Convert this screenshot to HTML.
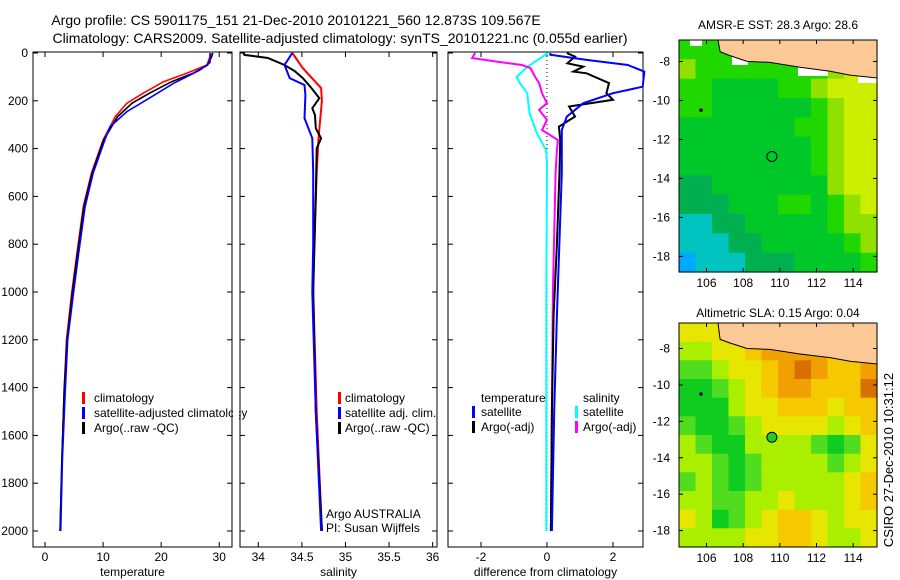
<!DOCTYPE html>
<html><head><meta charset="utf-8"><style>
body{margin:0;background:#fff;}
svg{display:block;font-family:"Liberation Sans",sans-serif;}
</style></head><body>
<svg id="fig" width="900" height="580" viewBox="0 0 900 580" xmlns="http://www.w3.org/2000/svg">
<text x="296" y="25" font-size="14" text-anchor="middle">Argo profile: CS 5901175_151 21-Dec-2010 20101221_560 12.873S 109.567E</text>
<text x="340" y="43" font-size="14" text-anchor="middle">Climatology: CARS2009. Satellite-adjusted climatology: synTS_20101221.nc (0.055d earlier)</text>
<g id="content"></g>
</svg>
<script>
// ---- temperature panel data ----
const tClimDepth=[0,15,50,85,120,168,210,266,364,502,643,837,1004,1200,1410,1700,2000];
const tClimVal=[28.4,28.4,27.9,24.4,20.4,16.9,14.1,12.1,10.0,8.0,6.6,5.5,4.6,3.7,3.3,2.9,2.6];
const tSatDepth=[0,40,71,127,196,245,308,364,502,643,837,1004,1200,1410,1700,2000];
const tSatVal=[28.5,28.4,26.7,22.1,17.5,14.1,11.2,10.3,8.3,6.9,5.8,4.9,3.9,3.5,3.0,2.7];
const tArgoDepth=[0,15,50,85,120,168,210,266,364,502,643,837,1004,1200,1410,1700,2000];
const tArgoVal=[28.9,28.7,28.0,25.5,21.8,18.0,15.0,12.5,10.1,8.1,6.7,5.6,4.7,3.8,3.3,2.9,2.6];
// ---- salinity panel data ----
const sClimDepth=[0,63,147,200,357,500,800,1000,1500,2000];
const sClimVal=[34.39,34.51,34.72,34.73,34.69,34.67,34.64,34.63,34.67,34.73];
const sSatDepth=[0,50,105,134,176,273,357,497,800,1000,1500,2000];
const sSatVal=[34.39,34.30,34.36,34.53,34.54,34.53,34.62,34.63,34.63,34.62,34.66,34.72];
const sArgoDepth=[0,8,21,50,76,105,147,189,231,260,315,357,399,600,1000,1500,2000];
const sArgoVal=[33.83,33.84,34.11,34.30,34.42,34.51,34.61,34.70,34.62,34.65,34.66,34.72,34.67,34.66,34.63,34.66,34.73];
// ---- difference panel data ----
const dTSatDepth=[0,7,29,50,78,141,168,210,266,322,502,782,1100,1500,2000];
const dTSatVal=[0.1,0.1,1.2,2.45,2.95,2.9,2.0,1.1,0.6,0.45,0.45,0.38,0.3,0.22,0.15];
const dTArgoDepth=[0,15,43,57,78,85,126,168,196,224,266,308,364,500,800,1100,1500,2000];
const dTArgoVal=[0.6,0.85,0.62,1.1,0.8,1.2,1.88,1.8,2.0,0.67,0.85,0.36,0.4,0.38,0.3,0.2,0.15,0.12];
const dSSatDepth=[0,57,100,126,168,251,335,406,460,1000,2000];
const dSSatVal=[0.03,-0.58,-0.92,-0.82,-0.6,-0.53,-0.31,-0.03,0,-0.02,-0.02];
const dSArgoDepth=[0,21,38,50,63,100,126,168,210,238,280,322,364,406,500,1000,2000];
const dSArgoVal=[-2.18,-2.27,-1.42,-0.76,-0.5,-0.36,-0.24,-0.15,0.0,-0.24,0,-0.15,0.33,0.3,0.26,0.18,0.12];
// ---- axis ticks ----
const depthTicks=[0,200,400,600,800,1000,1200,1400,1600,1800,2000];
const tempTicks=[0,10,20,30];
const salTicks=[34,34.5,35,35.5,36];
const salTickLabels=["34","34.5","35","35.5","36"];
const diffTicks=[-2,0,2];
// ---- maps ----
const lonTicks=[106,108,110,112,114];
const latTicks=[-8,-10,-12,-14,-16,-18];
const sstGrid=[
[4,4,4,4,5,4,4,4,4,6,7,7],[5,4,4,4,4,4,4,4,4,5,6,6],[4,4,3,3,3,3,4,4,5,6,6,6],[4,4,3,3,3,3,3,3,4,5,6,6],
[3,3,3,3,3,3,3,4,4,5,6,6],[3,3,3,3,3,3,3,3,4,5,6,6],[3,3,3,3,3,3,3,3,4,5,6,6],[2,2,3,3,3,3,3,3,3,5,6,6],
[2,2,2,3,3,3,4,4,3,4,5,6],[1,1,2,2,3,3,3,3,3,4,5,5],[1,1,1,2,2,3,3,3,3,3,4,5],[0,1,1,1,2,2,2,3,3,3,3,4]];
const slaGrid=[
[4,4,4,4,5,5,5,5,5,5,5,5],[3,3,4,4,5,6,6,6,6,5,5,5],[2,2,3,4,4,5,6,7,6,5,5,6],[1,1,2,3,4,5,6,6,5,5,5,7],
[1,1,1,3,4,4,5,5,5,4,5,5],[2,1,1,2,3,4,4,4,4,3,4,5],[3,2,1,1,3,3,3,3,2,1,2,4],[3,3,2,1,2,3,3,3,3,2,3,4],
[2,3,2,1,2,3,3,3,3,3,4,5],[3,3,2,2,3,3,4,3,3,3,4,5],[4,3,1,2,3,4,5,5,4,3,4,4],[3,3,3,3,4,4,5,5,4,3,3,4]];
const sstColors=["#00a8ff","#00c4c0","#00b050","#00c828","#20d800","#90e000","#ccee00","#f0d000"];
const slaColors=["#10b050","#10cc20","#50dd20","#aaee00","#e6e600","#f5c800","#f0a000","#d87000"];
const coastLon=[106.63,106.74,107.28,108.21,109.46,111.1,112.74,113.83,115.3];
const coastLat=[-6.5,-7.5,-7.7,-8.0,-8.05,-8.3,-8.5,-8.7,-8.85];
const floatLon=109.567, floatLat=-12.873;

const NS="http://www.w3.org/2000/svg";
const root=document.getElementById('content');
function mk(tag,attrs,parent){const e=document.createElementNS(NS,tag);for(const k in attrs)e.setAttribute(k,attrs[k]);(parent||root).appendChild(e);return e;}
function txt(s,x,y,attrs,parent){const e=mk('text',Object.assign({x:x,y:y,'font-size':12},attrs||{}),parent);e.textContent=s;return e;}

const Y0=53,YS=0.239;
const yD=d=>Y0+d*YS;
const panels=[
 {name:'temperature',x0:33,x1:232,v0:-2.07,v1:32.2},
 {name:'salinity',x0:240,x1:437,v0:33.79,v1:36.05},
 {name:'difference',x0:448,x1:643,v0:-3.0,v1:2.91}];
panels.forEach(p=>{p.fx=v=>p.x0+(v-p.v0)/(p.v1-p.v0)*(p.x1-p.x0);});
const PT=52,PB=547;

function frame(p,ticks,labels,xlabel){
  const g=mk('g',{},root);
  
  
  const r=mk('rect',{x:p.x0,y:PT,width:p.x1-p.x0,height:PB-PT,fill:'none',stroke:'#000','stroke-width':1},g);
  
  
  ticks.forEach((t,i)=>{const x=p.fx(t);
    mk('line',{x1:x,x2:x,y1:PT,y2:PT+5,stroke:'#000'},g);mk('line',{x1:x,x2:x,y1:PB,y2:PB-5,stroke:'#000'},g);
    const l=txt(labels[i],x,561,{'text-anchor':'middle'},g);
    
    });
  depthTicks.forEach(d=>{const y=yD(d);
    mk('line',{x1:p.x0,x2:p.x0+5,y1:y,y2:y,stroke:'#000'},g);mk('line',{x1:p.x1,x2:p.x1-5,y1:y,y2:y,stroke:'#000'},g);});
  const xl=txt(xlabel,(p.x0+p.x1)/2,576,{'text-anchor':'middle'},g);
  
  
  return g;
}
function line(p,ds,vs,color,name,w){
  const pts=ds.map((d,i)=>p.fx(vs[i]).toFixed(1)+','+yD(d).toFixed(1)).join(' ');
  const e=mk('polyline',{points:pts,fill:'none',stroke:color,'stroke-width':w||2});
  
  
}
frame(panels[0],tempTicks,tempTicks.map(String),'temperature');
frame(panels[1],salTicks,salTickLabels,'salinity');
frame(panels[2],diffTicks,diffTicks.map(String),'difference from climatology');
depthTicks.forEach(d=>{const l=txt(String(d),28,yD(d)+4,{'text-anchor':'end'});
  
  });
const zx=panels[2].fx(0);
const zl=mk('line',{x1:zx,x2:zx,y1:PT,y2:yD(2000),stroke:'#000','stroke-dasharray':'1,3'});



line(panels[0],tClimDepth,tClimVal,'#f00','temp-climatology-line',1.6);
line(panels[0],tArgoDepth,tArgoVal,'#000','temp-argo-line',1.6);
line(panels[0],tSatDepth,tSatVal,'#00f','temp-satellite-line',1.6);
line(panels[1],sClimDepth,sClimVal,'#f00','sal-climatology-line');
line(panels[1],sArgoDepth,sArgoVal,'#000','sal-argo-line');
line(panels[1],sSatDepth,sSatVal,'#00f','sal-satellite-line');
line(panels[2],dSSatDepth,dSSatVal,'#0ff','diff-sal-satellite-line');
line(panels[2],dSArgoDepth,dSArgoVal,'#f0f','diff-sal-argo-line');
line(panels[2],dTArgoDepth,dTArgoVal,'#000','diff-temp-argo-line');
line(panels[2],dTSatDepth,dTSatVal,'#00f','diff-temp-satellite-line');

function legend(items,mx,tx,y0,name){
  items.forEach((it,i)=>{const y=y0+i*15;
    const m=mk('rect',{x:mx,y:y-10,width:3,height:12,fill:it[0]});
    
    
    const t=txt(it[1],tx,y,{});
    
    });
}
legend([['#f00','climatology'],['#00f','satellite-adjusted climatology'],['#000','Argo(..raw -QC)']],82,94,402,'temp-legend');
legend([['#f00','climatology'],['#00f','satellite adj. clim.'],['#000','Argo(..raw -QC)']],338,345,402,'sal-legend');
let t1=txt('temperature',481,402,{});
let t2=txt('salinity',583,402,{});
legend([['#00f','satellite'],['#000','Argo(-adj)']],472,481,416,'diff-temp-legend');
legend([['#0ff','satellite'],['#f0f','Argo(-adj)']],575,583,416,'diff-sal-legend');
const cov=mk('rect',{x:233,y:385,width:6,height:40,fill:'#fff'});

mk('line',{x1:240,x2:240,y1:385,y2:425,stroke:'#000'});
let a1=txt('Argo AUSTRALIA',326,518,{});
let a2=txt('PI: Susan Wijffels',326,532,{});

function drawMap(top,bottom,latTop,latBot,grid,colors,title,titleY,name,filled,gaps){
  const L=679,R=877,lon0=104.5,lon1=115.3;
  const fx=lon=>L+(lon-lon0)/(lon1-lon0)*(R-L);
  const fy=lat=>top+(latTop-lat)/(latTop-latBot)*(bottom-top);
  const g=mk('g',{});
  
  
  const rows=grid.length,cols=grid[0].length,cw=(R-L)/cols,ch=(bottom-top)/rows;
  grid.forEach((row,r)=>row.forEach((v,c)=>{
    const cell=mk('rect',{x:(L+c*cw).toFixed(1),y:(top+r*ch).toFixed(1),width:(cw+0.6).toFixed(1),height:(ch+0.6).toFixed(1),fill:colors[v]},g);
    
    }));
  if(gaps){gaps.forEach(gp=>{const w=mk('rect',{x:gp[0],y:gp[1],width:gp[2],height:gp[3],fill:'#fff'},g);
    });}
  let pts=coastLon.map((lo,i)=>fx(lo).toFixed(1)+','+Math.max(top,fy(coastLat[i])).toFixed(1)).join(' ');
  pts=pts+' '+R+','+top;
  const land=mk('polygon',{points:pts,fill:'#fcc896',stroke:'#000','stroke-width':1},g);
  
  
  mk('rect',{x:L,y:top,width:R-L,height:bottom-top,fill:'none',stroke:'#000'},g);
  lonTicks.forEach(lo=>{const x=fx(lo);mk('line',{x1:x,x2:x,y1:top,y2:top+4,stroke:'#000'},g);mk('line',{x1:x,x2:x,y1:bottom,y2:bottom-4,stroke:'#000'},g);
    const l=txt(String(lo),x,bottom+15,{'text-anchor':'middle'},g);});
  latTicks.forEach(la=>{const y=fy(la);mk('line',{x1:L,x2:L+4,y1:y,y2:y,stroke:'#000'},g);mk('line',{x1:R,x2:R-4,y1:y,y2:y,stroke:'#000'},g);
    const l=txt(String(la),670,y+4,{'text-anchor':'end'},g);});
  const st=mk('circle',{cx:fx(105.7),cy:fy(-10.5),r:1.8,fill:'#000'},g);
  
  const fc=mk('circle',{cx:fx(floatLon),cy:fy(floatLat),r:5,fill:filled?'#22cc22':'none',stroke:'#000','stroke-width':1},g);
  
  const tt=txt(title,778,titleY,{'text-anchor':'middle'},g);
  
}
drawMap(40,272,-6.9,-18.8,sstGrid,sstColors,'AMSR-E SST: 28.3 Argo: 28.6',29,'sst-map',false,[[690,40,12,6],[732,55,16,10],[798,66,30,10],[858,73,19,10]]);
drawMap(323,547,-6.6,-18.9,slaGrid,slaColors,'Altimetric SLA: 0.15 Argo: 0.04',317,'sla-map',true,null);
const cs=txt('CSIRO 27-Dec-2010 10:31:12',0,0,{'text-anchor':'middle','font-size':13,transform:'translate(893,460) rotate(-90)'});


</script>
</body></html>
